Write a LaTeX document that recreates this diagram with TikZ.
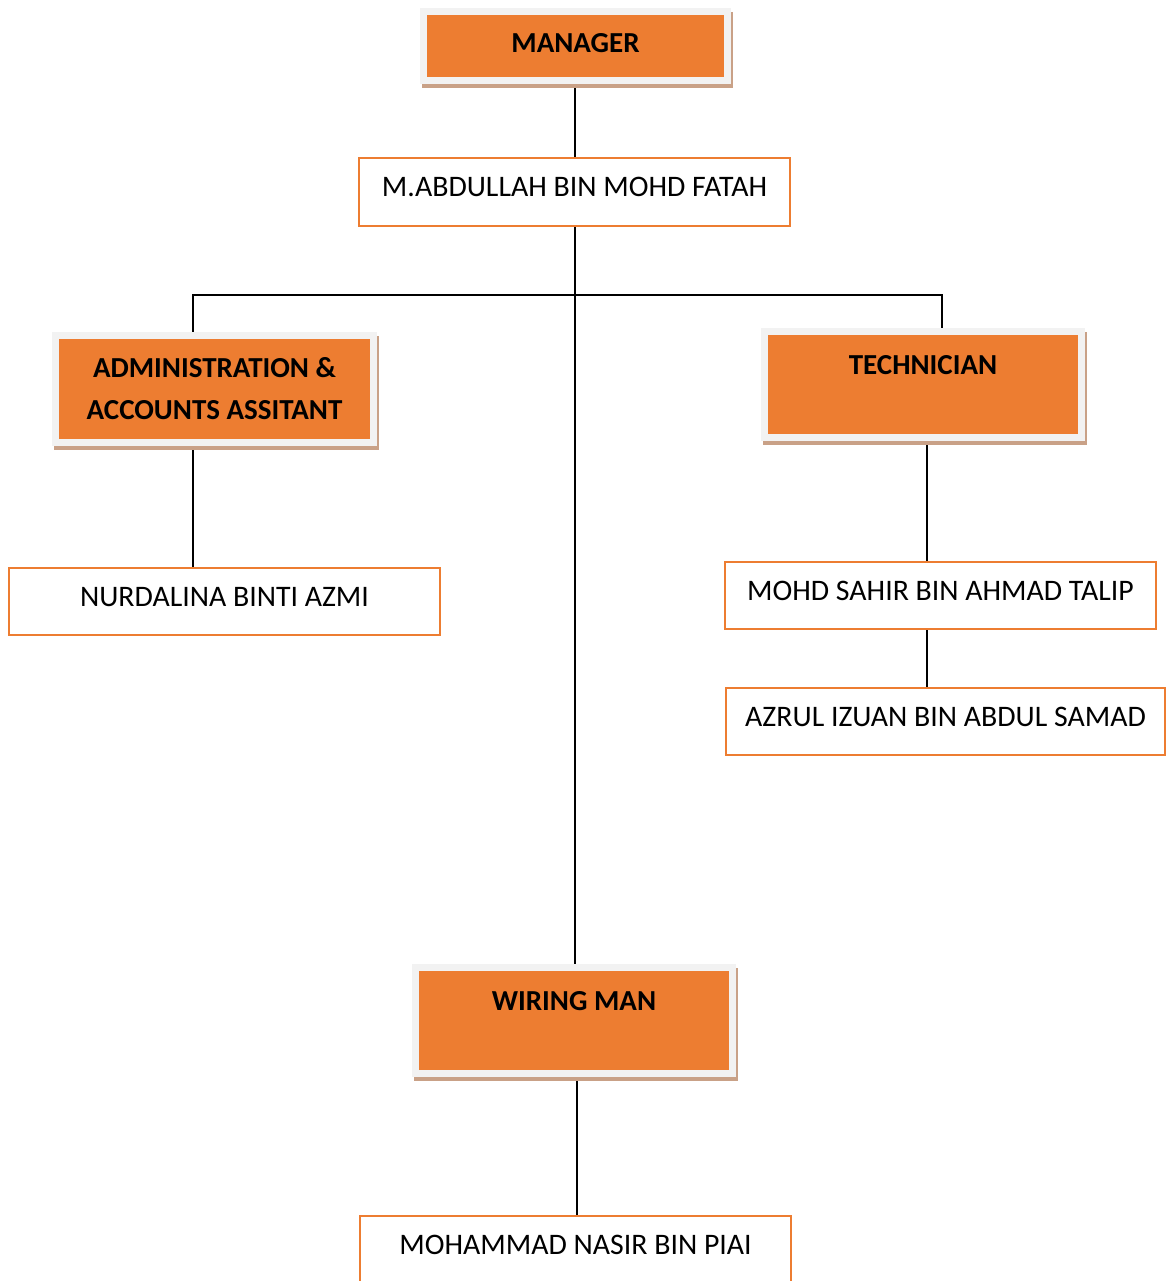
\documentclass[tikz,border=0pt]{standalone}
\usepackage{fontspec}
\setmainfont{Carlito}
\usetikzlibrary{shadows,backgrounds}

\definecolor{boxorange}{HTML}{ED7D31}
\definecolor{framegray}{HTML}{F2F2F2}
\definecolor{shadowtan}{RGB}{201,161,135}

\tikzset{
  rolebox/.style={fill=boxorange, draw=framegray, line width=7pt, inner sep=0pt,
    align=center, font=\bfseries\fontsize{29}{42}\selectfont,
    drop shadow={shadow xshift=2pt, shadow yshift=-4pt, fill=shadowtan, draw=shadowtan, opacity=1}},
  toptext/.style={text height=20pt, text depth=41pt},
  namebox/.style={fill=white, draw=boxorange, line width=1.3pt, inner sep=0pt,
    minimum width=431pt, minimum height=67pt, text height=19pt, text depth=10pt,
    font=\fontsize{29.8}{42}\selectfont},
  link/.style={line width=2pt}
}

\begin{document}
\begin{tikzpicture}[x=1pt, y=-1pt]

    \useasboundingbox (0,0) rectangle (1168,1281);

    \node[rolebox, text height=19pt, text depth=6.3pt, minimum width=304pt, minimum height=69pt] (mgr) at (575.5,46) {MANAGER};
    \node[namebox, minimum height=68pt] (abd) at (574.5,192) {M.ABDULLAH BIN MOHD FATAH};

    \node[rolebox, minimum width=318pt, minimum height=107pt] (adm) at (214.5,389) {ADMINISTRATION \&\\ACCOUNTS ASSITANT};
    \node[namebox] (nur) at (224.5,601.5) {NURDALINA BINTI AZMI};

    \node[rolebox, toptext, minimum width=317pt, minimum height=106pt] (tech) at (923,384.5) {TECHNICIAN};
    \node[namebox] (sah) at (940.5,595.5) {MOHD SAHIR BIN AHMAD TALIP};
    \node[namebox, minimum width=439pt] (azr) at (945.5,721.5) {AZRUL IZUAN BIN ABDUL SAMAD};

    \node[rolebox, toptext, minimum width=317pt, minimum height=106pt] (wire) at (574,1020.5) {WIRING MAN};
    \node[namebox] (nas) at (575.5,1249.5) {MOHAMMAD NASIR BIN PIAI};

    \coordinate (bus) at (574.5,295);

    \begin{pgfonlayer}{background}
    \draw[link] (abd.north) -- (abd.north |- mgr.south);
    \draw[link] (abd.south) -- (abd.south |- wire.north);
    \draw[link] ([xshift=-21.5pt]adm.north) |- (bus) -| ([xshift=19pt]tech.north);
    \draw[link] ([xshift=-21.5pt]adm.south) -- ([xshift=-21.5pt]adm.south |- nur.north);
    \draw[link] ([xshift=4pt]tech.south) -- ([xshift=4pt]tech.south |- sah.north);
    \draw[link] ([xshift=-13.5pt]sah.south) -- ([xshift=-13.5pt]sah.south |- azr.north);
    \draw[link] ([xshift=3pt]wire.south) -- ([xshift=3pt]wire.south |- nas.north);
    \end{pgfonlayer}

\end{tikzpicture}
\end{document}
